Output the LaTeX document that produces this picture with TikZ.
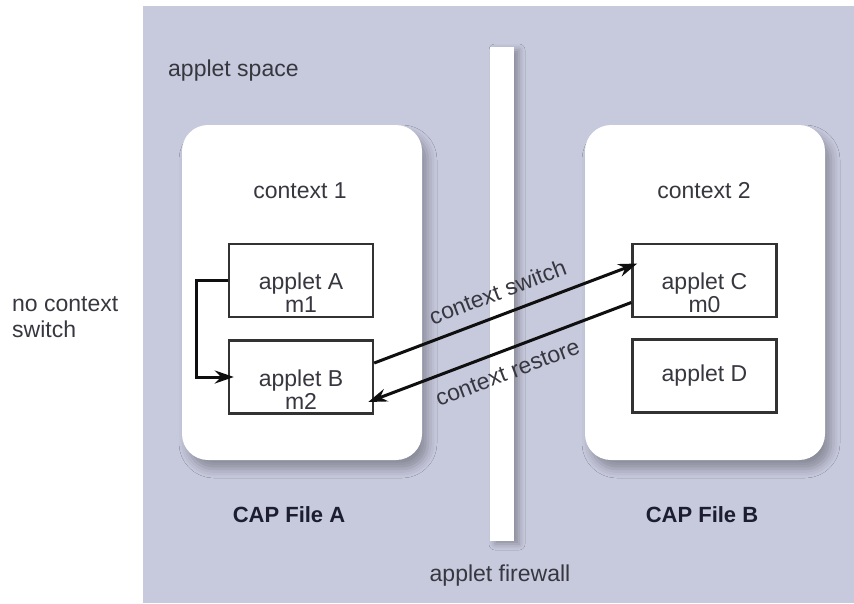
\documentclass[tikz,border=0pt]{standalone}
\usepackage{fontspec}
\setmainfont{Liberation Sans}
\usetikzlibrary{arrows.meta,shadows.blur}

\definecolor{spacebg}{RGB}{199,201,221}
\definecolor{txtgray}{RGB}{55,55,64}
\definecolor{capnavy}{RGB}{28,30,48}
\definecolor{boxline}{RGB}{50,50,50}
\definecolor{arrowblack}{RGB}{15,15,15}

\begin{document}
\begin{tikzpicture}[x=1pt,y=-1pt]

    \tikzset{
      ctxbox/.style={
        fill=white,
        rounded corners=26pt,
        inner sep=0pt,
        minimum width=240pt,
        minimum height=335pt,
        blur shadow={shadow xshift=6pt,shadow yshift=-9pt,shadow blur radius=9pt,shadow opacity=30},
      },
      appbox/.style={
        draw=boxline,
        line width=2.4pt,
        fill=white,
        inner sep=0pt,
        minimum width=144pt,
        minimum height=73pt,
      },
      apptext/.style={
        text=txtgray,
        font=\fontsize{23}{23}\selectfont,
        align=center,
        inner sep=0pt,
      },
      captext/.style={
        text=capnavy,
        font=\bfseries\fontsize{22}{22}\selectfont,
        inner sep=0pt,
      },
      flow/.style={
        draw=arrowblack,
        line width=3pt,
        -{Stealth[length=19pt,width=13pt]},
      },
    }
    \useasboundingbox (0,0) rectangle (854,603);
    \fill[spacebg] (143,6) rectangle (854,603);

	\node[fill=white, inner sep=0pt, minimum width=24pt, minimum height=494pt,
	  blur shadow={shadow xshift=5pt,shadow yshift=-3pt,shadow blur radius=6pt,shadow opacity=30}] (firewall) at (502,294) {};
	\node[ctxbox] (ctxA) at (302,292.5) {};
	\node[ctxbox] (ctxB) at (705,292.5) {};

	\node[apptext, anchor=base west] (space) at (168,76) {applet space};
	\node[apptext, anchor=base] (ctxAtxt) at (300,198) {context 1};
	\node[apptext, anchor=base] (ctxBtxt) at (704,198) {context 2};
	\node[apptext, align=left, anchor=west, font=\fontsize{23}{26}\selectfont] (noswitch) at (12,317) {no context\\switch};
	\node[captext, anchor=base] (capA) at (289,522) {CAP File A};
	\node[captext, anchor=base] (capB) at (702,522) {CAP File B};
	\node[apptext, anchor=base] (wall) at (500,581) {applet firewall};

	\node[appbox] (appA) at (301,280.5) {};
	\node[appbox] (appB) at (301,377) {};
	\node[appbox] (appC) at (704.5,280.5) {};
	\node[appbox] (appD) at (704.5,376) {};
	\node[apptext] (txtA) at ([yshift=-12.5pt]appA.center) {applet A\\m1};
	\node[apptext] (txtB) at ([yshift=-12.5pt]appB.center) {applet B\\m2};
	\node[apptext] (txtC) at ([yshift=-12.5pt]appC.center) {applet C\\m0};
	\node[apptext] (txtD) at (appD.center) {applet D};

	\draw[flow] (appA.west) -- ++(-31,0) |- ([xshift=6pt]appB.west);
	\draw[flow] ([yshift=14pt]appB.east) -- node[apptext, sloped, above=13pt] (switch) {context switch} ([xshift=6pt,yshift=17pt]appC.west);
	\draw[flow] ([yshift=-22pt]appC.west) -- node[apptext, sloped, below=13pt] (restore) {context restore} ([xshift=-6pt,yshift=-25pt]appB.east);

\end{tikzpicture}
\end{document}
